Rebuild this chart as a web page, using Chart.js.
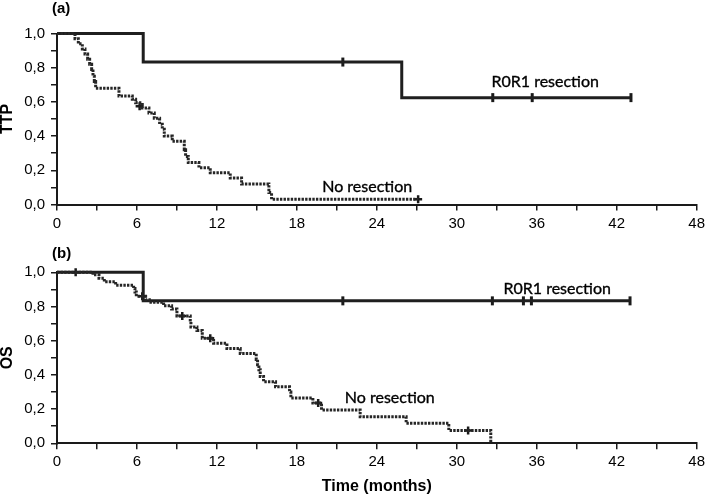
<!DOCTYPE html>
<html>
<head>
<meta charset="utf-8">
<script src="https://cdn.jsdelivr.net/npm/chart.js@4.4.1/dist/chart.umd.min.js"></script>
<style>
  body { margin: 0; background: #fff; }
  .panel { position: absolute; left: 0; }
  #panelA { top: 0; }
  #panelB { top: 240px; }
</style>
</head>
<body>
<div class="panel" id="panelA"><canvas id="ttpChart" width="709" height="240"></canvas></div>
<div class="panel" id="panelB"><canvas id="osChart" width="709" height="256"></canvas></div>
<script>
// TTP, no resection (Kaplan-Meier steps, months / survival)
const TTP_NR_MONTHS = [0, 1.35, 1.6, 1.9, 2.1, 2.3, 2.45, 2.6, 2.7, 2.8, 2.9, 4.65, 5.65, 5.9, 6.4, 6.9, 7.3, 7.7, 7.9, 8.05, 8.65, 9.55, 9.65, 9.85, 10.65, 11.5, 13.0, 13.85, 15.9, 16.1, 27.1];
const TTP_NR_SURV   = [1, 0.97, 0.94, 0.91, 0.88, 0.85, 0.82, 0.79, 0.75, 0.72, 0.68, 0.635, 0.615, 0.595, 0.565, 0.535, 0.505, 0.47, 0.44, 0.40, 0.37, 0.32, 0.28, 0.245, 0.215, 0.185, 0.155, 0.12, 0.07, 0.03, 0.03];
const TTP_NR_CENS_MONTHS = [6.2, 27.1];
const TTP_NR_CENS_SURV   = [0.575, 0.03];

// TTP, R0R1 resection
const TTP_R_MONTHS = [0, 6.47, 25.87, 43.07];
const TTP_R_SURV   = [1, 0.833, 0.625, 0.625];
const TTP_R_CENS_MONTHS = [21.45, 32.7, 35.66, 43.07];
const TTP_R_CENS_SURV   = [0.833, 0.625, 0.625, 0.625];

// OS, no resection
const OS_NR_MONTHS = [0, 2.7, 3.15, 3.55, 4.4, 5.75, 5.85, 5.95, 6.65, 7.05, 8.0, 8.6, 9.0, 10.0, 10.05, 10.5, 10.9, 11.75, 12.75, 13.75, 14.95, 15.05, 15.15, 15.25, 15.5, 16.4, 17.45, 17.55, 19.2, 19.85, 22.75, 26.2, 29.4, 32.55];
const OS_NR_SURV   = [1, 0.985, 0.965, 0.945, 0.925, 0.905, 0.885, 0.86, 0.84, 0.825, 0.805, 0.785, 0.745, 0.71, 0.68, 0.66, 0.615, 0.585, 0.555, 0.525, 0.49, 0.46, 0.43, 0.39, 0.36, 0.33, 0.3, 0.265, 0.235, 0.195, 0.155, 0.117, 0.075, 0];
const OS_NR_CENS_MONTHS = [1.4, 6.4, 9.4, 11.5, 19.6, 30.85];
const OS_NR_CENS_SURV   = [1, 0.86, 0.745, 0.615, 0.235, 0.075];

// OS, R0R1 resection
const OS_R_MONTHS = [0, 6.47, 43.0];
const OS_R_SURV   = [1, 0.833, 0.833];
const OS_R_CENS_MONTHS = [21.45, 32.67, 35.0, 35.6, 43.0];
const OS_R_CENS_SURV   = [0.833, 0.833, 0.833, 0.833, 0.833];

const X_TICKS = [0, 6, 12, 18, 24, 30, 36, 42, 48];

const LINE_COLOR = '#1f1f1f';
const TEXT_COLOR = '#000';

function toPoints(xs, ys) {
  return xs.map((x, i) => ({x: x, y: ys[i]}));
}

// draws panel letter and the curve labels
const textPlugin = {
  id: 'curveText',
  afterDatasetsDraw(chart, args, opts) {
    const ctx = chart.ctx;
    const xs = chart.scales.x, ys = chart.scales.y;
    ctx.save();
    ctx.fillStyle = TEXT_COLOR;
    ctx.font = 'bold 15px "Liberation Sans", Arial, sans-serif';
    ctx.textAlign = 'left';
    ctx.textBaseline = 'top';
    ctx.fillText(opts.letter, 52, opts.letterTop);
    ctx.font = '16px Lato, "Open Sans", sans-serif';
    ctx.textBaseline = 'middle';
    ctx.strokeStyle = TEXT_COLOR;
    ctx.lineWidth = 0.35;
    opts.labels.forEach(l => {
      const px = xs.getPixelForValue(l.x), py = ys.getPixelForValue(l.y);
      ctx.fillText(l.text, px, py);
      ctx.strokeText(l.text, px, py);
    });
    ctx.restore();
  }
};

function makePanel(canvasId, nr, r, yTitle, showXTitle, plotTop, xAxisHeight, letter, letterTop, labels) {
  const tickFont = {family: '"Liberation Sans", Arial, sans-serif', size: 15};
  const titleFont = {family: '"Liberation Sans", Arial, sans-serif', size: 16, weight: 'bold'};
  return new Chart(document.getElementById(canvasId), {
    type: 'line',
    data: {
      datasets: [
        {
          data: toPoints(nr.months, nr.surv),
          stepped: 'before',
          borderColor: '#262626',
          borderWidth: 3,
          borderDash: [2.4, 1.2],
          pointRadius: 0,
          clip: false,
        },
        {
          data: toPoints(r.months, r.surv),
          stepped: 'before',
          borderColor: LINE_COLOR,
          borderWidth: 3,
          pointRadius: 0,
          clip: false,
        },
        {
          data: toPoints(nr.censMonths, nr.censSurv),
          showLine: false,
          pointStyle: 'cross',
          pointRadius: 4,
          pointBorderWidth: 2.5,
          pointBorderColor: '#1a1a1a',
          clip: false,
        },
        {
          data: toPoints(r.censMonths, r.censSurv),
          showLine: false,
          pointStyle: 'line',
          rotation: 90,
          pointRadius: 4.5,
          pointBorderWidth: 3,
          pointBorderColor: '#1a1a1a',
          clip: false,
        },
      ]
    },
    options: {
      responsive: false,
      animation: false,
      layout: {padding: {top: plotTop, right: 10, left: 0, bottom: 0}},
      plugins: {
        legend: {display: false},
        tooltip: {enabled: false},
        curveText: {letter: letter, letterTop: letterTop, labels: labels},
      },
      scales: {
        x: {
          type: 'linear',
          min: 0, max: 48,
          afterFit: (s) => { s.height = xAxisHeight; },
          afterBuildTicks: (s) => {
            s.ticks = [];
            for (let v = 0; v <= 48; v += 3) s.ticks.push({value: v});
          },
          ticks: {
            autoSkip: false, maxRotation: 0, padding: 4,
            color: TEXT_COLOR, font: tickFont,
            callback: (v) => X_TICKS.includes(v) ? String(v) : '',
          },
          grid: {drawOnChartArea: false, color: '#1a1a1a', lineWidth: 1.5, tickLength: 6},
          border: {color: '#1a1a1a', width: 2},
          title: {display: showXTitle, text: 'Time (months)', color: TEXT_COLOR, font: titleFont, padding: {top: 0, bottom: 0}},
        },
        y: {
          min: 0, max: 1,
          afterFit: (s) => { s.width = 57; },
          afterBuildTicks: (s) => {
            s.ticks = [];
            for (let k = 0; k <= 10; k++) s.ticks.push({value: k / 10});
          },
          ticks: {
            autoSkip: false, padding: 6,
            color: TEXT_COLOR, font: tickFont,
            callback: (v) => {
              const k = Math.round(v * 10);
              return k % 2 === 0 ? (k / 10).toFixed(1).replace('.', ',') : '';
            },
          },
          grid: {drawOnChartArea: false, color: '#1a1a1a', lineWidth: 1.5, tickLength: 6},
          border: {color: '#1a1a1a', width: 2},
          title: {display: true, text: yTitle, color: TEXT_COLOR, font: titleFont, padding: {top: -2, bottom: 0}},
        }
      }
    },
    plugins: [textPlugin]
  });
}

makePanel('ttpChart',
  {months: TTP_NR_MONTHS, surv: TTP_NR_SURV, censMonths: TTP_NR_CENS_MONTHS, censSurv: TTP_NR_CENS_SURV},
  {months: TTP_R_MONTHS, surv: TTP_R_SURV, censMonths: TTP_R_CENS_MONTHS, censSurv: TTP_R_CENS_SURV},
  'TTP', false, 33.5, 35.5, '(a)', 1,
  [{text: 'R0R1 resection', x: 32.6, y: 0.715}, {text: 'No resection', x: 19.9, y: 0.104}]);

makePanel('osChart',
  {months: OS_NR_MONTHS, surv: OS_NR_SURV, censMonths: OS_NR_CENS_MONTHS, censSurv: OS_NR_CENS_SURV},
  {months: OS_R_MONTHS, surv: OS_R_SURV, censMonths: OS_R_CENS_MONTHS, censSurv: OS_R_CENS_SURV},
  'OS', true, 32.3, 52.7, '(b)', 6,
  [{text: 'R0R1 resection', x: 33.5, y: 0.906}, {text: 'No resection', x: 21.6, y: 0.265}]);
</script>
</body>
</html>
